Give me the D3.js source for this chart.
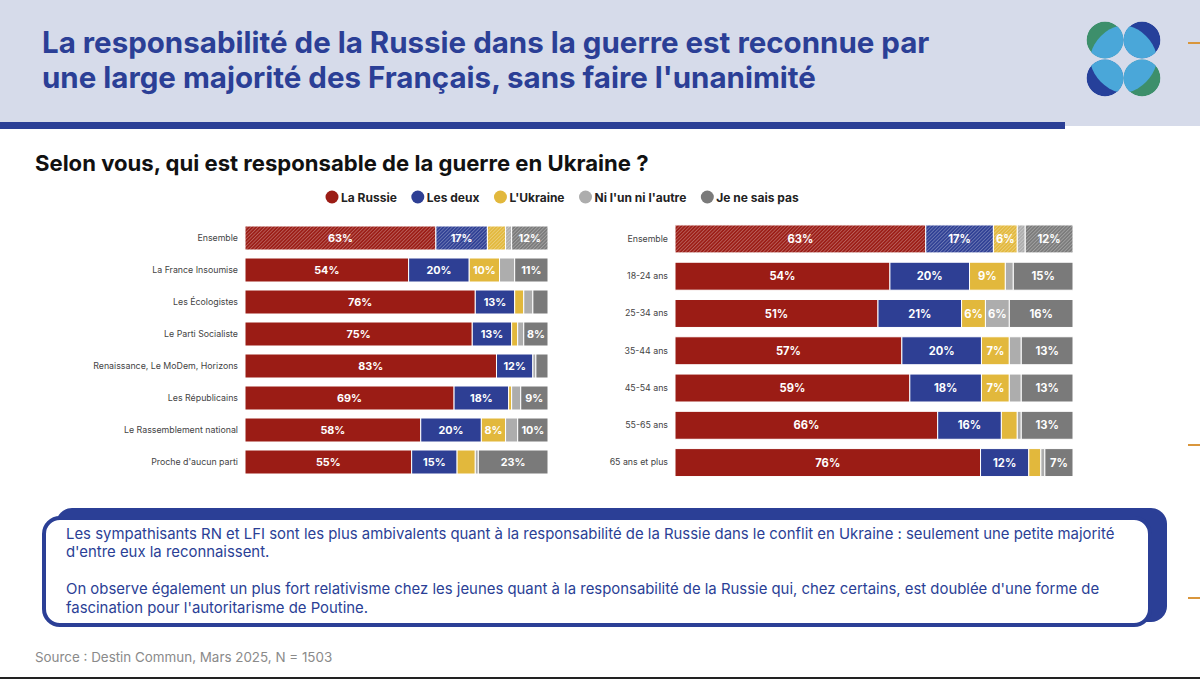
<!DOCTYPE html>
<html>
<head>
<meta charset="utf-8">
<script src="https://cdn.jsdelivr.net/npm/d3@7"></script>
<style>
  body { margin: 0; background: #fff; }
  svg { display: block; font-family: Inter, "Noto Sans", sans-serif; }
</style>
</head>
<body>
<div id="chart"></div>
<script>
// Series and colours
var series = ["La Russie", "Les deux", "L'Ukraine", "Ni l'un ni l'autre", "Je ne sais pas"];
var colors = ["#9b1c15", "#2e3f94", "#e2b83c", "#adadad", "#7a7a7a"];

// Left chart: proximity to parties
var partis = ["Ensemble", "La France Insoumise", "Les Écologistes", "Le Parti Socialiste",
  "Renaissance, Le MoDem, Horizons", "Les Républicains", "Le Rassemblement national", "Proche d'aucun parti"];
var partiRussie  = [63, 54, 76, 75, 83, 69, 58, 55];
var partiDeux    = [17, 20, 13, 13, 12, 18, 20, 15];
var partiUkraine = [6, 10, 3, 2, 0, 1, 8, 6];
var partiNi      = [2, 5, 3, 2, 1, 3, 4, 1];
var partiNsp     = [12, 11, 5, 8, 4, 9, 10, 23];

// Right chart: age groups
var ages = ["Ensemble", "18-24 ans", "25-34 ans", "35-44 ans", "45-54 ans", "55-65 ans", "65 ans et plus"];
var ageRussie  = [63, 54, 51, 57, 59, 66, 76];
var ageDeux    = [17, 20, 21, 20, 18, 16, 12];
var ageUkraine = [6, 9, 6, 7, 7, 4, 3];
var ageNi      = [2, 2, 6, 3, 3, 1, 1];
var ageNsp     = [12, 15, 16, 13, 13, 13, 7];

var blue = "#2b3f96";

var svg = d3.select("#chart").append("svg")
    .attr("width", 1200)
    .attr("height", 679);

var defs = svg.append("defs");

// hatched patterns for the "Ensemble" rows
colors.forEach(function(c, i) {
  var p = defs.append("pattern")
      .attr("id", "hatch" + i)
      .attr("patternUnits", "userSpaceOnUse")
      .attr("width", 2.5).attr("height", 2.5)
      .attr("patternTransform", "rotate(45)");
  p.append("rect").attr("width", 2.5).attr("height", 2.5).attr("fill", c);
  p.append("rect").attr("width", 0.9).attr("height", 2.5).attr("fill", "#fff").attr("opacity", 0.3);
});

// Header
svg.append("rect").attr("x", 0).attr("y", 0).attr("width", 1200).attr("height", 126).attr("fill", "#d6dbea");
svg.append("rect").attr("x", 0).attr("y", 122).attr("width", 1065).attr("height", 7).attr("fill", blue);

var title = svg.append("text")
    .attr("x", 42).attr("y", 53)
    .attr("fill", blue)
    .attr("font-size", 29.5).attr("font-weight", 700);
title.append("tspan").attr("x", 42).text("La responsabilité de la Russie dans la guerre est reconnue par");
title.append("tspan").attr("x", 42).attr("dy", 35).text("une large majorité des Français, sans faire l'unanimité");

// Logo: four circles
var logo = [
  {cx: 1105, cy: 40, dark: "#3d8f6b", dx: -1, dy: -1},
  {cx: 1142, cy: 40, dark: "#26409a", dx: 1, dy: -1},
  {cx: 1105, cy: 78, dark: "#26409a", dx: -1, dy: 1},
  {cx: 1142, cy: 78, dark: "#3d8f6b", dx: 1, dy: 1}
];
logo.forEach(function(d, i) {
  defs.append("clipPath").attr("id", "lc" + i)
    .append("circle").attr("cx", d.cx).attr("cy", d.cy).attr("r", 18.5);
  var g = svg.append("g").attr("clip-path", "url(#lc" + i + ")");
  g.append("circle").attr("cx", d.cx).attr("cy", d.cy).attr("r", 18.5).attr("fill", d.dark);
  var ang = Math.atan2(d.dy, d.dx) * 180 / Math.PI;
  var ex = d.cx - d.dx * 8, ey = d.cy - d.dy * 8;
  g.append("ellipse")
    .attr("cx", ex).attr("cy", ey)
    .attr("rx", 17).attr("ry", 27)
    .attr("transform", "rotate(" + ang + "," + ex + "," + ey + ")")
    .attr("fill", "#4aa7d9");
});

// Orange ticks on the right edge
[43, 445, 598].forEach(function(y) {
  svg.append("rect").attr("x", 1188).attr("y", y - 1).attr("width", 12).attr("height", 2).attr("fill", "#d9963c");
});

// Subtitle
svg.append("text")
    .attr("x", 35).attr("y", 171)
    .attr("font-size", 22.1).attr("font-weight", 700).attr("fill", "#111")
    .text("Selon vous, qui est responsable de la guerre en Ukraine ?");

// Legend
var lx = 326;
var legend = svg.append("g");
series.forEach(function(s, i) {
  legend.append("circle").attr("cx", lx + 6).attr("cy", 197).attr("r", 6.5).attr("fill", colors[i]);
  var t = legend.append("text")
      .attr("x", lx + 15).attr("y", 201.5)
      .attr("font-size", 12).attr("font-weight", 700).attr("fill", "#222")
      .text(s);
  lx += 15 + t.node().getComputedTextLength() + 15;
});

function drawChart(cats, cols, x0, x1, y0, y1, labelSize) {
  var rows = cats.map(function(c, i) {
    var r = {cat: c};
    cols.forEach(function(arr, k) { r[k] = arr[i]; });
    return r;
  });
  var stack = d3.stack().keys(d3.range(cols.length)).offset(d3.stackOffsetExpand);
  var layers = stack(rows);

  var x = d3.scaleLinear().domain([0, 1]).range([x0, x1]);
  var y = d3.scaleBand().domain(cats).range([y0, y1]).paddingInner(0.25).paddingOuter(0.125);

  var g = svg.append("g");

  // category labels
  var yAxis = d3.axisLeft(y).tickSize(0).tickPadding(7);
  g.append("g")
      .attr("transform", "translate(" + x0 + ",0)")
      .call(yAxis)
      .call(function(a) { a.select(".domain").remove(); })
      .selectAll("text")
      .attr("font-family", "Inter, 'Noto Sans', sans-serif")
      .attr("font-size", 8.8)
      .attr("fill", "#444");

  layers.forEach(function(layer, k) {
    var lg = g.append("g");
    lg.selectAll("rect").data(layer).enter().append("rect")
        .attr("x", function(d) { return x(d[0]); })
        .attr("y", function(d) { return y(d.data.cat); })
        .attr("width", function(d) { return Math.max(0, x(d[1]) - x(d[0])); })
        .attr("height", y.bandwidth())
        .attr("fill", function(d, i) { return i === 0 ? "url(#hatch" + k + ")" : colors[k]; })
        .attr("stroke", "#fff")
        .attr("stroke-width", 1);

    lg.selectAll("text").data(layer.filter(function(d) { return x(d[1]) - x(d[0]) >= 21; }))
      .enter().append("text")
        .attr("x", function(d) { return (x(d[0]) + x(d[1])) / 2; })
        .attr("y", function(d) { return y(d.data.cat) + y.bandwidth() / 2; })
        .attr("dy", "0.36em")
        .attr("text-anchor", "middle")
        .attr("font-size", labelSize).attr("font-weight", 700)
        .attr("fill", "#fff")
        .text(function(d) { return d.data[k] + "%"; });
  });
}

drawChart(partis, [partiRussie, partiDeux, partiUkraine, partiNi, partiNsp], 245, 548, 222, 478, 10.8);
drawChart(ages, [ageRussie, ageDeux, ageUkraine, ageNi, ageNsp], 675, 1073, 220.3, 481.2, 11.2);

// Comment box
svg.append("rect").attr("x", 56).attr("y", 508).attr("width", 1111).attr("height", 114).attr("rx", 16).attr("fill", blue);
svg.append("rect").attr("x", 44).attr("y", 518).attr("width", 1106).attr("height", 107).attr("rx", 16)
    .attr("fill", "#fff").attr("stroke", blue).attr("stroke-width", 4);

var notes = [
  "Les sympathisants RN et LFI sont les plus ambivalents quant à la responsabilité de la Russie dans le conflit en Ukraine : seulement une petite majorité",
  "d'entre eux la reconnaissent.",
  "",
  "On observe également un plus fort relativisme chez les jeunes quant à la responsabilité de la Russie qui, chez certains, est doublée d'une forme de",
  "fascination pour l'autoritarisme de Poutine."
];
var nt = svg.append("text").attr("fill", blue).attr("font-size", 14.9);
notes.forEach(function(line, i) {
  nt.append("tspan").attr("x", 66).attr("y", 538.5 + i * 18.5).text(line);
});

// Source
svg.append("text")
    .attr("x", 35).attr("y", 662)
    .attr("font-size", 13.4).attr("fill", "#8a8a8a")
    .text("Source : Destin Commun, Mars 2025, N = 1503");

svg.append("rect").attr("x", 0).attr("y", 677).attr("width", 1200).attr("height", 2).attr("fill", "#222");
</script>
</body>
</html>
